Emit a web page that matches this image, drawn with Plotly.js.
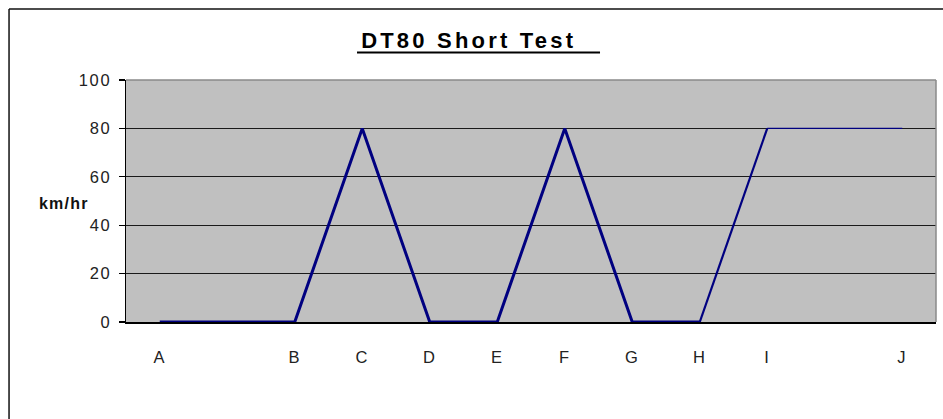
<!DOCTYPE html>
<html>
<head>
<meta charset="utf-8">
<script src="https://cdn.plot.ly/plotly-3.0.1.min.js"></script>
<style>
html,body{margin:0;padding:0;background:#fff;}
#chart{width:943px;height:419px;}
.gtitle{letter-spacing:3.2px;}
.xtick text,.ytick text{letter-spacing:1.6px;}
.annotation-text{letter-spacing:1.2px;}
</style>
</head>
<body>
<div id="chart"></div>
<script>
// Data
const labels = ["A","B","C","D","E","F","G","H","I","J"];
const xPos   = [0, 2, 3, 4, 5, 6, 7, 8, 9, 11];
const speed  = [0, 0, 80, 0, 0, 80, 0, 0, 80, 80];
const yTicks = [0, 20, 40, 60, 80, 100];
const chartTitle = "DT80 Short Test";
const yLabel = "km/hr";

const lineColor = "#000080";
const traces = [
  {x: xPos.slice(0, 8), y: speed.slice(0, 8), mode: "lines", line: {color: lineColor, width: 3}, hoverinfo: "skip"},
  {x: xPos.slice(7, 9), y: speed.slice(7, 9), mode: "lines", line: {color: lineColor, width: 2.2}, hoverinfo: "skip"},
  {x: xPos.slice(8),    y: speed.slice(8),    mode: "lines", line: {color: lineColor, width: 1.4}, hoverinfo: "skip"}
];

const layout = {
  width: 943, height: 419,
  margin: {l: 126, r: 7, t: 80, b: 97},
  paper_bgcolor: "#ffffff",
  plot_bgcolor: "#c0c0c0",
  showlegend: false,
  font: {family: "Arial, 'Liberation Sans', sans-serif", color: "#111"},
  title: {
    text: "<b>" + chartTitle + "</b>",
    font: {size: 22, color: "#000"},
    x: 0.497, xanchor: "center",
    y: 0.903, yanchor: "middle", yref: "container"
  },
  xaxis: {
    range: [-0.5, 11.5],
    tickvals: xPos, ticktext: labels,
    showgrid: false, zeroline: false,
    showline: true, linecolor: "#000", linewidth: 1.5,
    ticks: "", ticklabelstandoff: 20,
    tickfont: {size: 16.5, color: "#222"}
  },
  yaxis: {
    range: [0, 100],
    tickvals: yTicks,
    showgrid: true, gridcolor: "#1a1a1a", gridwidth: 1.3,
    zeroline: false,
    showline: true, linecolor: "#000", linewidth: 1.5,
    ticks: "outside", ticklen: 6, tickcolor: "#000", tickwidth: 1.3,
    ticklabelstandoff: 4,
    tickfont: {size: 16.5, color: "#222"}
  },
  annotations: [{
    text: "<b>" + yLabel + "</b>",
    xref: "paper", yref: "paper",
    x: -0.0765, y: 0.488, xanchor: "center", yanchor: "middle",
    showarrow: false, font: {size: 16, color: "#111"}
  }],
  shapes: [
    {type: "line", xref: "paper", yref: "paper", x0: 0, x1: 1, y0: 1, y1: 1, line: {color: "#8a8a8a", width: 1.5}, layer: "above"},
    {type: "line", xref: "paper", yref: "paper", x0: 1, x1: 1, y0: 0, y1: 1, line: {color: "#8a8a8a", width: 1.5}, layer: "above"},
    {type: "line", xref: "paper", yref: "paper", x0: 0.2852, x1: 0.5852, y0: 1.1136, y1: 1.1136, line: {color: "#000", width: 2.2}},
    {type: "line", xref: "paper", yref: "paper", x0: -0.1444, x1: 1.05, y0: 1.2934, y1: 1.2934, line: {color: "#111", width: 1.5}},
    {type: "line", xref: "paper", yref: "paper", x0: -0.1444, x1: -0.1444, y0: -0.5, y1: 1.2934, line: {color: "#111", width: 1.5}}
  ]
};

Plotly.newPlot("chart", traces, layout, {staticPlot: true, displayModeBar: false});
</script>
</body>
</html>
